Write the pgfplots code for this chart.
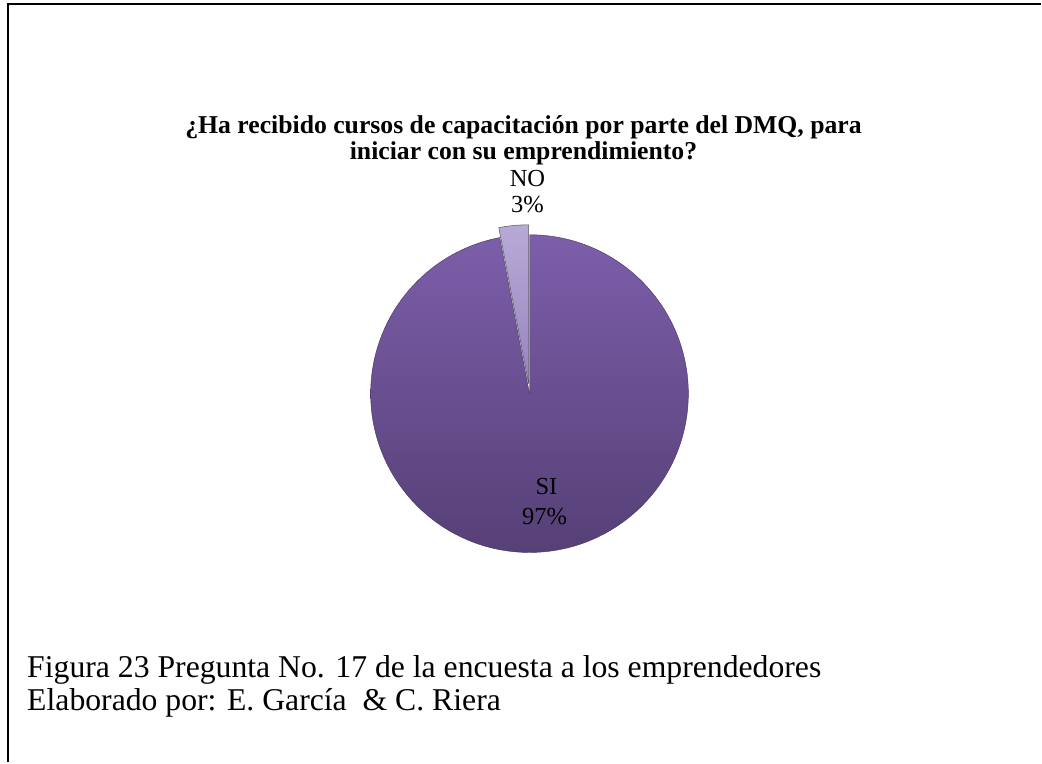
\documentclass[border=0pt]{standalone}
\usepackage{pgfplots}
\pgfplotsset{compat=1.18}
\usepackage{pgfplotstable}
\usepackage{fontspec}
\setmainfont{Liberation Serif}
\pgfplotstableread{
label value
SI 97
NO 3
}\piedata
\definecolor{siTop}{RGB}{124,94,170}
\definecolor{siBot}{RGB}{86,64,118}
\definecolor{noTop}{RGB}{184,170,214}
\definecolor{noBot}{RGB}{150,132,192}
\begin{document}
\begin{tikzpicture}[x=0.75pt,y=0.75pt]
\fill[white] (0,0) rectangle (1042,763);
\draw[line width=1.5pt] (8,0) -- (8,759) -- (1042,759);
\pgfplotstablegetelem{0}{value}\of\piedata \let\vSI\pgfplotsretval
\pgfplotstablegetelem{1}{value}\of\piedata \let\vNO\pgfplotsretval
\pgfmathsetmacro\aE{90-3.6*\vSI}
\pgfmathsetmacro\aN{\aE-3.6*\vNO}
\pgfmathsetmacro\aMid{(\aE+\aN)/2}
\pgfmathsetmacro\dX{10*cos(\aMid)}
\pgfmathsetmacro\dY{10*sin(\aMid)}
\begin{axis}[at={(0,0)}, anchor=south west, scale only axis,
  x=0.75pt, y=0.75pt, xmin=0, xmax=1042, ymin=0, ymax=763,
  hide axis, clip=false]
\shade[top color=siTop, bottom color=siBot, draw=siBot!80!black, line width=0.3pt]
  (axis cs:530,369) -- ++(90:119.25pt) arc[start angle=90, end angle=\aE, radius=119.25pt] -- cycle;
\shade[top color=noTop, bottom color=noBot, draw=gray!70!black, line width=0.4pt]
  (axis cs:530+\dX,369+\dY) -- ++(\aE:119.25pt) arc[start angle=\aE, end angle=\aN, radius=119.25pt] -- cycle;
\node[font=\fontsize{18.4}{19}\selectfont, anchor=base] at (axis cs:528,763-187) {NO};
\node[font=\fontsize{18.4}{19}\selectfont, anchor=base] at (axis cs:528,763-213) {\vNO\%};
\node[font=\fontsize{18.4}{19}\selectfont, anchor=base] at (axis cs:547,763-495) {SI};
\node[font=\fontsize{18.4}{19}\selectfont, anchor=base] at (axis cs:545,763-525) {\vSI\%};
\end{axis}
\node[font=\bfseries\fontsize{19.3}{20}\selectfont, anchor=base] at (524,763-134) {¿Ha recibido cursos de capacitación por parte del DMQ, para};
\node[font=\bfseries\fontsize{19.3}{20}\selectfont, anchor=base] at (524,763-160) {iniciar con su emprendimiento?};
\node[font=\fontsize{23.8}{25}\selectfont, anchor=base west, inner sep=0pt] at (27,763-678) {Figura 23 Pregunta No. 17 de la encuesta a los emprendedores};
\node[font=\fontsize{23.8}{25}\selectfont, anchor=base west, inner sep=0pt] at (27,763-711) {Elaborado por: E. García~ \& C. Riera};
\end{tikzpicture}
\end{document}
